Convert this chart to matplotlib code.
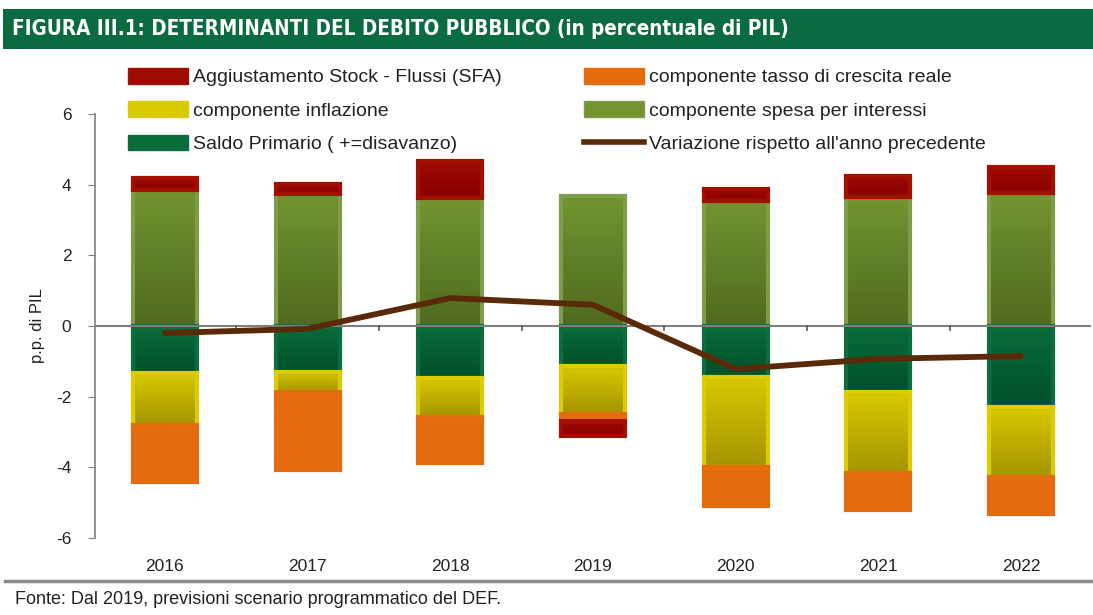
import numpy as np
import matplotlib
matplotlib.use("Agg")
import matplotlib.pyplot as plt
from matplotlib.patches import Patch, Rectangle
from matplotlib.lines import Line2D
from matplotlib.colors import LinearSegmentedColormap

plt.rcParams["font.family"] = ["Liberation Sans", "DejaVu Sans"]

# ---- data ----
years = ["2016", "2017", "2018", "2019", "2020", "2021", "2022"]
interessi = [3.85, 3.74, 3.62, 3.68, 3.53, 3.65, 3.76]
saldo = [-1.33, -1.30, -1.47, -1.13, -1.44, -1.87, -2.29]
inflazione = [-1.47, -0.57, -1.11, -1.36, -2.55, -2.29, -1.98]
crescita = [-1.62, -2.21, -1.30, -0.20, -1.10, -1.05, -1.06]
sfa = [0.34, 0.28, 1.05, -0.42, 0.35, 0.60, 0.74]
variazione = [-0.20, -0.08, 0.79, 0.60, -1.22, -0.93, -0.85]

W, H = 1093, 615
fig = plt.figure(figsize=(W / 100, H / 100), dpi=100)
fig.patch.set_facecolor("white")
ax = fig.add_axes([95 / W, 1 - 538 / H, (1091 - 95) / W, (538 - 114) / H])

x = np.arange(len(years))
bw = 0.45

styles = {
    "interessi": ("#739430", "#4f6a1f", "#7f9c48"),
    "saldo": ("#0a6c3a", "#00502a", "#0b6e3e"),
    "inflazione": ("#d8c900", "#a49400", "#dccc00"),
    "crescita": ("#e56c0e", "#e56c0e", "#e56c0e"),
    "sfa": ("#9e0a00", "#870000", "#a31000"),
}
grad = np.linspace(0, 1, 100).reshape(-1, 1)


def grad_bars(vals, bottoms, key):
    top_c, bot_c, edge_c = styles[key]
    cmap = LinearSegmentedColormap.from_list(key, [bot_c, top_c])
    for xi, v, b0 in zip(x, vals, bottoms):
        if abs(v) < 1e-9:
            continue
        bar = ax.bar(xi, v, bw, bottom=b0, facecolor="none",
                     edgecolor=edge_c, linewidth=3.0, zorder=3)[0]
        lo, hi = min(b0, b0 + v), max(b0, b0 + v)
        im = ax.imshow(grad, cmap=cmap,
                       extent=[bar.get_x(), bar.get_x() + bar.get_width(), lo, hi],
                       origin="lower", aspect="auto", zorder=2,
                       interpolation="bilinear")
        im.set_clip_path(bar)


zeros = np.zeros(len(x))
pos_sfa = [s if s > 0 else 0 for s in sfa]
neg_sfa = [s if s < 0 else 0 for s in sfa]

grad_bars(interessi, zeros, "interessi")
grad_bars(pos_sfa, interessi, "sfa")
b1 = np.array(saldo)
grad_bars(saldo, zeros, "saldo")
grad_bars(inflazione, b1, "inflazione")
b2 = b1 + np.array(inflazione)
grad_bars(crescita, b2, "crescita")
b3 = b2 + np.array(crescita)
grad_bars(neg_sfa, b3, "sfa")

ax.axhline(0, color="#7f7f7f", lw=1.5, zorder=4)
ax.plot(x, variazione, color="#5a2a08", lw=4.2, zorder=5, solid_capstyle="round")

ax.set_xlim(-0.49, 6.49)
ax.set_ylim(-6, 6)
ax.set_yticks([-6, -4, -2, 0, 2, 4, 6])
ax.set_yticklabels(["-6", "-4", "-2", "0", "2", "4", "6"])
for s in ["top", "right", "bottom"]:
    ax.spines[s].set_visible(False)
ax.spines["left"].set_color("#7f7f7f")
ax.spines["left"].set_linewidth(1.2)
ax.tick_params(axis="y", direction="out", length=5, color="#7f7f7f",
               labelsize=12.5, labelcolor="#222222", pad=12)
ax.set_xticks(x)
ax.set_xticklabels(years)
ax.tick_params(axis="x", length=0, labelsize=12.5, labelcolor="#222222", pad=15)
for b in np.arange(0.5, 6.5, 1.0):
    ax.plot([b, b], [0, -0.12], color="#555555", lw=1.2, zorder=4)
ax.set_ylabel("p.p. di PIL", fontsize=12, color="#222222", labelpad=8)

# legend
h_sfa = Patch(facecolor="#9e0a00", edgecolor="#a31000")
h_inf = Patch(facecolor="#d8c900", edgecolor="#dccc00")
h_sal = Patch(facecolor="#0a6c3a", edgecolor="#0b6e3e")
h_cre = Patch(facecolor="#e56c0e", edgecolor="#e56c0e")
h_int = Patch(facecolor="#739430", edgecolor="#7f9c48")
h_var = Line2D([0], [0], color="#5a2a08", lw=4)
lkw = dict(frameon=False, fontsize=14, handlelength=3.1, handleheight=0.85,
           handletextpad=0.25, labelspacing=0.77, borderaxespad=0, borderpad=0)
leg1 = fig.legend([h_sfa, h_inf, h_sal],
                  ["Aggiustamento Stock - Flussi (SFA)", "componente inflazione",
                   "Saldo Primario ( +=disavanzo)"],
                  loc="upper left", bbox_to_anchor=(128 / W, 1 - 68 / H), **lkw)
leg2 = fig.legend([h_cre, h_int, h_var],
                  ["componente tasso di crescita reale", "componente spesa per interessi",
                   "Variazione rispetto all'anno precedente"],
                  loc="upper left", bbox_to_anchor=(584 / W, 1 - 68 / H), **lkw)
for lg in (leg1, leg2):
    for t in lg.get_texts():
        t.set_color("#222222")

# title banner
fig.patches.append(Rectangle((3 / W, 1 - 49 / H), 1 - 3 / W, 40 / H,
                             transform=fig.transFigure, facecolor="#0a6b40",
                             edgecolor="none", zorder=0))
fig.text(12 / W, 1 - 29 / H, "FIGURA III.1: DETERMINANTI DEL DEBITO PUBBLICO (in percentuale di PIL)",
         color="white", fontsize=14.8, fontweight="bold", va="center", ha="left",
         family="DejaVu Sans", fontstretch="condensed")

# bottom separator and source
fig.add_artist(Line2D([5 / W, 1], [1 - 581 / H, 1 - 581 / H], transform=fig.transFigure,
                      color="#8a8a8a", lw=2.5))
fig.text(15 / W, 1 - 600 / H, "Fonte: Dal 2019, previsioni scenario programmatico del DEF.",
         color="#222222", fontsize=13, va="center", ha="left")

fig.savefig("out.png", dpi=100)
